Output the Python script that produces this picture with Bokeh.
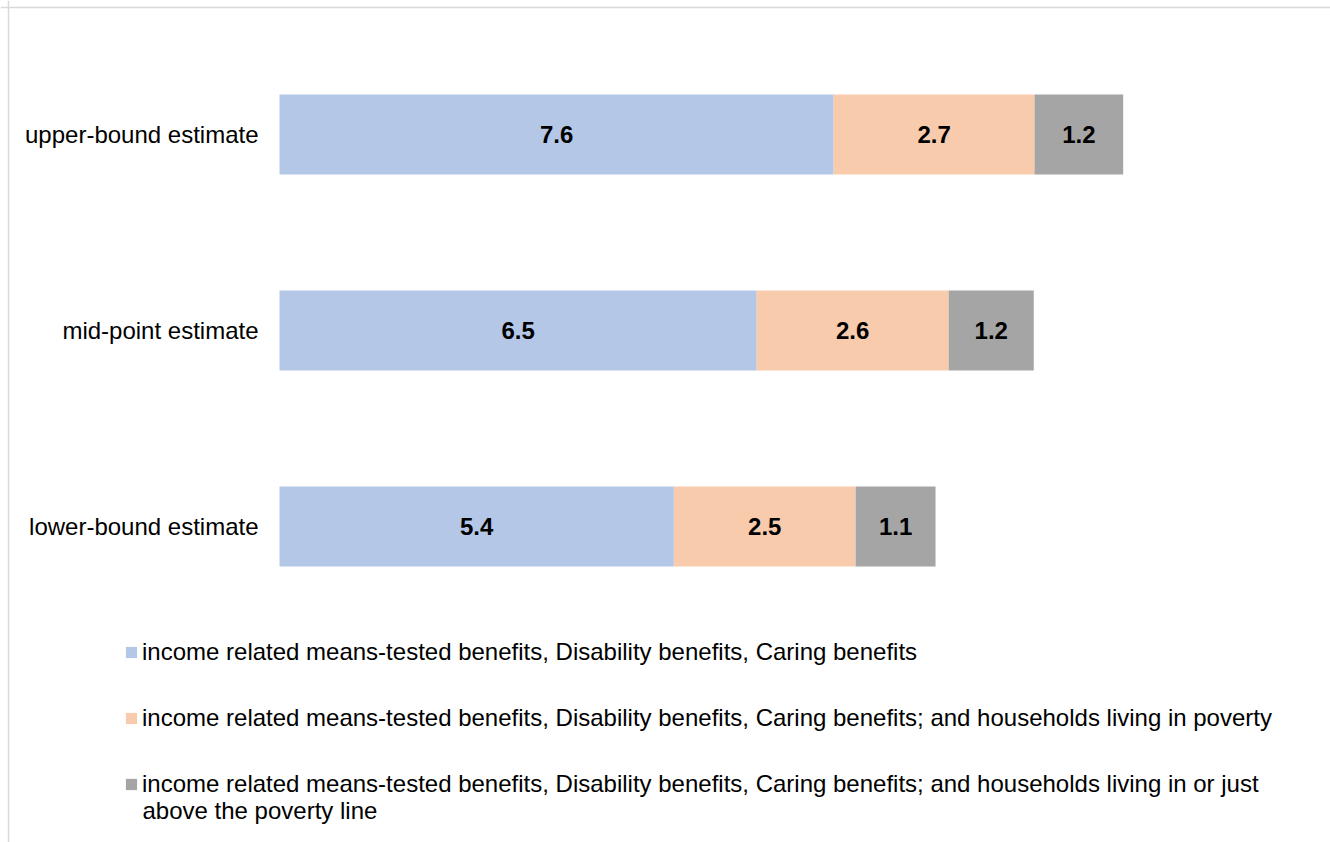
from bokeh.plotting import figure
from bokeh.models import ColumnDataSource, Range1d, Span, Legend, LegendItem
from bokeh.core.properties import value
from bokeh.embed import file_html
from bokeh.resources import INLINE

# ---- data ----
categories = ["lower-bound estimate", "mid-point estimate", "upper-bound estimate"]
income_benefits = [5.38, 6.51, 7.56]
plus_poverty = [2.48, 2.62, 2.74]
plus_near_poverty = [1.09, 1.16, 1.21]
series_labels = [
    "income related means-tested benefits, Disability benefits, Caring benefits",
    "income related means-tested benefits, Disability benefits, Caring benefits; and households living in poverty",
    "income related means-tested benefits, Disability benefits, Caring benefits; and households living in or just\nabove the poverty line",
]
colors = ["#b4c7e7", "#f8cbad", "#a5a5a5"]

FONT = "Liberation Sans"
W, H = 1330, 842
k = 73.3          # pixels per unit on x
x0 = 279          # pixel of value 0
row_px = 196      # pixels between rows
top_center = 134  # pixel of upper row centre

ys = list(range(len(categories)))
source = ColumnDataSource(dict(
    y=ys, cat=categories, s0=income_benefits, s1=plus_poverty, s2=plus_near_poverty,
))

x_range = Range1d(-x0 / k, (W - x0) / k)
y_top = (len(categories) - 1) + top_center / row_px
y_range = Range1d(y_top - H / row_px, y_top)

p = figure(width=W, height=H, x_range=x_range, y_range=y_range,
           output_backend="svg", toolbar_location=None,
           x_axis_location=None, y_axis_location=None,
           min_border=0, min_border_left=0, min_border_right=0,
           min_border_top=0, min_border_bottom=0)
p.outline_line_color = None
p.xgrid.visible = False
p.ygrid.visible = False
p.background_fill_color = "white"
p.border_fill_color = "white"

renderers = p.hbar_stack(["s0", "s1", "s2"], y="y", height=0.408, color=colors,
                         line_color=None, source=source)

# data labels
lab_x, lab_y, lab_t = [], [], []
for i in ys:
    left = 0.0
    for vals in (income_benefits, plus_poverty, plus_near_poverty):
        v = vals[i]
        lab_x.append(left + v / 2)
        lab_y.append(i)
        lab_t.append(f"{v:.1f}")
        left += v
p.text(x=lab_x, y=lab_y, text=lab_t, text_align="center", text_baseline="middle",
       text_font=value(FONT), text_font_size="24px", text_font_style="bold",
       text_color="#000000")

# category labels
p.text(x=[-21 / k] * len(categories), y=ys, text=categories, text_align="right",
       text_baseline="middle", text_font=value(FONT), text_font_size="24px",
       text_color="#000000")

# chart-area border (left and top edges)
p.add_layout(Span(location=-(x0 - 8) / k, dimension="height", line_color="#d9d9d9", line_width=1.5))
p.add_layout(Span(location=y_top - 7 / row_px, dimension="width", line_color="#d9d9d9", line_width=1.5))

# legend: first line of each label in the legend, wrapped continuation as text
first_lines = [lbl.split("\n")[0] for lbl in series_labels]
legend = Legend(items=[LegendItem(label=lbl, renderers=[r]) for lbl, r in zip(first_lines, renderers)],
                location=(124, 44), orientation="vertical",
                glyph_width=14, glyph_height=14, label_standoff=4,
                label_text_font=FONT, label_text_font_size="24px", label_text_color="#000000",
                label_height=24, spacing=38, padding=0, margin=0,
                border_line_color=None, background_fill_alpha=0)
p.add_layout(legend, "center")

cont = [lbl.split("\n", 1)[1] for lbl in series_labels if "\n" in lbl]
p.text(x=[(142 - x0) / k] * len(cont), y=[y_top - 810 / row_px] * len(cont), text=cont,
       text_align="left", text_baseline="middle", text_font=value(FONT),
       text_font_size="24px", text_color="#000000")

open("out.html", "w").write(file_html(p, INLINE))
